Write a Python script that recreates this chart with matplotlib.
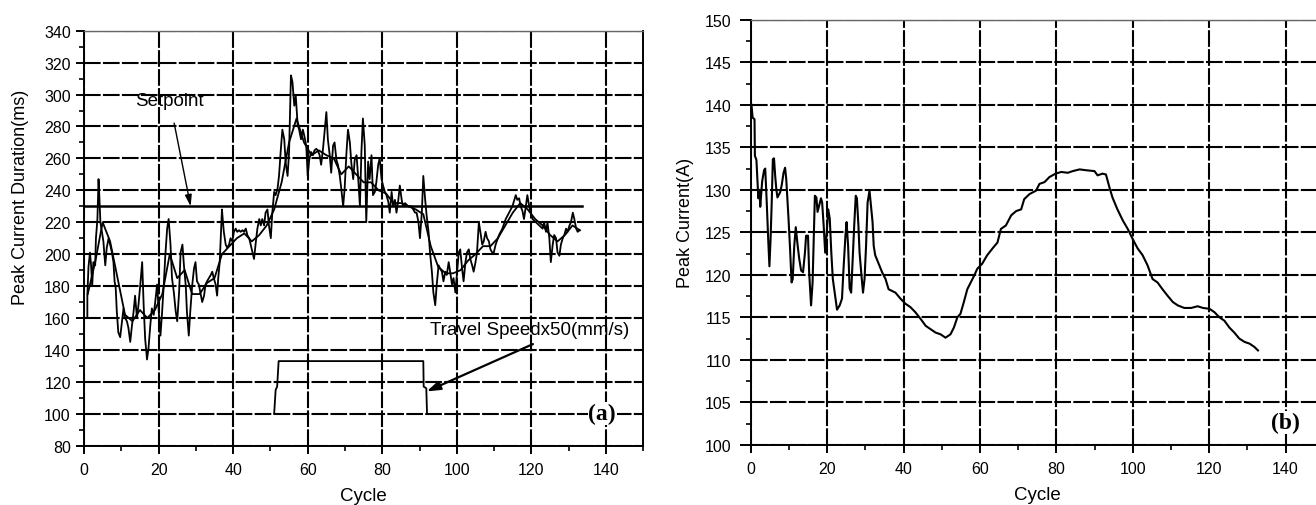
import numpy as np
import matplotlib
matplotlib.use("Agg")
import matplotlib.pyplot as plt
from matplotlib.ticker import MultipleLocator

plt.rcParams['font.family'] = ['Liberation Sans', 'DejaVu Sans']

# (a) peak current duration, measured trace
dur_x = [0.9, 0.9, 1.2, 1.6, 1.9, 2.2, 2.5, 3.0, 3.2, 3.6, 3.9, 4.1, 4.4, 4.8, 5.2, 5.7, 6.1, 6.6, 7.0, 7.5,
         7.9, 8.2, 8.5, 8.8, 9.2, 9.7, 10.1, 10.6, 11.0, 11.5, 11.9, 12.4, 12.8, 13.3, 13.7, 14.2, 14.6, 15.1,
         15.6, 16.0, 16.4, 16.9, 17.3, 17.8, 18.2, 18.7, 19.1, 19.6, 20.0, 20.5, 20.9, 21.4, 21.8, 22.3, 22.7,
         23.2, 23.6, 24.1, 24.6, 25.0, 25.5, 25.9, 26.4, 26.8, 27.3, 27.6, 28.1, 28.5, 29.0, 29.5, 29.9, 30.3,
         30.8, 31.2, 31.7, 32.2, 32.6, 33.0, 33.5, 34.0, 34.4, 34.8, 35.3, 35.7, 36.0, 36.4, 36.6, 37.0, 37.2,
         37.5, 38.0, 38.4, 38.9, 39.3, 39.8, 40.2, 40.7, 41.1, 41.6, 42.0, 42.5, 42.9, 43.4, 43.8, 44.3, 44.7,
         45.2, 45.6, 46.1, 46.5, 47.0, 47.4, 47.8, 48.3, 48.7, 49.2, 49.6, 50.1, 50.5, 51.0, 51.4, 51.9, 52.3,
         52.8, 53.2, 53.7, 54.1, 54.6, 55.0, 55.5, 55.9, 56.4, 56.8, 57.3, 57.7, 58.2, 58.7, 59.1, 59.6, 60.0,
         60.4, 60.9, 61.4, 61.8, 62.3, 62.7, 63.2, 63.6, 64.1, 64.5, 65.0, 65.4, 65.9, 66.3, 66.8, 67.2, 67.7,
         68.1, 68.6, 69.0, 69.5, 69.9, 70.4, 70.8, 71.3, 71.7, 72.2, 72.6, 73.1, 73.5, 74.0, 74.4, 74.8, 75.3,
         75.7, 76.2, 76.6, 77.1, 77.5, 78.0, 78.4, 78.9, 79.3, 79.8, 80.2, 80.7, 81.1, 81.6, 82.0, 82.5, 82.9,
         83.4, 83.8, 84.3, 84.7, 85.2, 85.6, 86.1, 86.5, 87.0, 87.9, 88.3, 88.8, 89.2, 89.7, 90.1, 90.6, 91.0,
         91.5, 91.9, 92.4, 92.8, 93.3, 93.7, 94.2, 94.6, 95.1, 95.5, 96.0, 96.4, 96.9, 97.3, 97.8, 98.2, 98.7,
         99.1, 99.6, 100.0, 100.5, 100.9, 101.4, 101.8, 102.3, 102.7, 103.2, 103.6, 104.1, 104.5, 105.0, 105.4,
         105.9, 106.3, 106.8, 107.2, 107.7, 108.1, 108.6, 109.0, 109.5, 109.9, 110.4, 111.3, 112.2, 113.1,
         114.0, 114.9, 115.8, 116.2, 116.7, 117.1, 117.6, 118.0, 118.5, 118.9, 119.4, 119.8, 120.3, 121.2,
         122.1, 123.0, 123.4, 123.9, 124.3, 124.8, 125.2, 125.7, 126.1, 126.6, 127.0, 127.5, 127.9, 128.4,
         128.8, 129.3, 129.7, 130.2, 130.6, 131.1, 131.5, 132.0, 132.4, 132.9]
dur_y = [160, 174, 192, 201, 193, 180, 195, 193, 210, 222, 247, 237, 220, 214, 208, 193, 204, 210, 206, 201,
         195, 183, 179, 164, 151, 148, 156, 166, 160, 158, 154, 145, 154, 164, 174, 160, 168, 181,
         195, 168, 147, 134, 141, 156, 166, 162, 170, 181, 166, 149, 162, 181, 199, 216, 222,
         206, 185, 176, 164, 158, 176, 201, 206, 193, 180, 164, 149, 164, 180, 191, 195, 183,
         181, 176, 170, 174, 181, 183, 185, 187, 189, 185, 181, 174, 185, 195, 206, 228, 222,
         214, 206, 204, 206, 210, 208, 214, 216, 214, 215, 214, 215, 214, 216, 212, 210, 206,
         201, 197, 208, 216, 222, 218, 222, 218, 226, 228, 218, 210, 226, 239, 237, 241, 249,
         266, 278, 272, 257, 249, 264, 312, 308, 293, 299, 281, 278, 272, 278, 274, 268, 249,
         259, 264, 262, 265, 266, 265, 262, 256, 266, 276, 289, 272, 262, 251, 268, 270, 259,
         256, 249, 241, 230, 241, 264, 278, 270, 257, 247, 259, 262, 249, 230, 264, 285, 268,
         220, 258, 247, 262, 237, 239, 245, 256, 260, 247, 243, 239, 237, 233, 226, 239, 230,
         234, 226, 234, 243, 234, 230, 232, 231, 230, 230, 228, 226, 226, 220, 210, 226, 249,
         234, 224, 214, 201, 189, 176, 168, 181, 193, 191, 189, 183, 189, 187, 195, 189, 181,
         185, 176, 187, 201, 203, 191, 183, 195, 201, 203, 197, 193, 189, 195, 201,
         220, 214, 206, 208, 214, 210, 208, 203, 201, 201, 206, 212, 216, 222,
         226, 230, 237, 234, 235, 230, 227, 222, 230, 237, 230, 226, 222, 220,
         218, 216, 220, 214, 220, 210, 195, 206, 212, 210, 201, 199, 206, 210,
         212, 216, 214, 218, 220, 226, 222, 216, 214, 215]

# (a) second, smoother trace
dur2_x = [1, 3, 5, 7, 9, 11, 13, 15, 17, 19, 21, 23, 25, 27, 29, 31, 33, 35, 37, 39, 41, 43, 45, 47, 49,
          51, 53, 55, 57, 59, 61, 63, 65, 67, 69, 71, 73, 75, 77, 79, 81, 83, 85, 87, 89, 91, 93, 95,
          97, 99, 101, 103, 105, 107, 109, 111, 113, 115, 117, 119, 121, 123, 125, 127, 129, 131, 133]
dur2_y = [175, 195, 220, 208, 185, 162, 158, 165, 160, 165, 175, 200, 185, 190, 175, 175, 182, 185, 200,
          205, 210, 213, 208, 212, 218, 228, 245, 270, 285, 270, 262, 265, 262, 260, 250, 255, 250, 245,
          245, 240, 238, 232, 232, 230, 228, 225, 205, 192, 188, 188, 190, 196, 200, 205, 205, 210, 218,
          226, 232, 228, 222, 218, 212, 208, 212, 218, 215]

setpoint_x = [0, 133.5]
setpoint_y = [230, 230]

speed_x = [51.0, 51.4, 51.8, 52.2, 91.0, 91.1, 91.8, 92.0]
speed_y = [100, 115, 117, 133, 133, 117, 116, 100]

# (b) peak current
cur_x = [0.2, 0.5, 1.0, 1.1, 1.5, 2.0, 2.3, 2.5, 3.0, 3.5, 3.8, 4.2, 4.6, 4.9, 5.2, 5.5, 5.8, 6.1, 6.4,
         6.7, 7.0, 7.7, 8.1, 8.6, 9.0, 9.3, 9.6, 9.9, 10.3, 10.7, 11.0, 11.4, 11.8, 12.3, 12.7, 13.2, 13.7,
         14.2, 14.5, 15.0, 15.3, 15.8, 16.2, 16.5, 16.8, 17.2, 17.5, 17.9, 18.4, 18.7, 19.1, 19.5, 19.9,
         20.3, 20.7, 21.1, 21.5, 22.0, 22.6, 23.3, 23.9, 24.3, 24.8, 25.1, 25.5, 25.9, 26.3, 26.7, 27.1,
         27.5, 27.8, 28.2, 28.5, 29.0, 29.4, 29.8, 30.2, 30.6, 31.1, 31.5, 31.9, 32.2, 32.6, 33.5, 34.4,
         35.3, 36.1, 37.0, 37.9, 39.2, 40.5, 41.8, 43.1, 44.5, 45.8, 47.1, 48.4, 49.7, 51.0, 52.3, 53.2,
         54.1, 54.9, 55.8, 56.7, 57.6, 58.5, 59.3, 60.6, 61.9, 63.3, 64.6, 65.5, 66.8, 68.2, 69.5, 70.8,
         71.6, 73.0, 74.7, 75.6, 76.9, 78.2, 79.8, 81.3, 83.0, 84.3, 86.1, 87.8, 90.0, 90.8, 92.1, 93.0,
         93.9, 94.7, 96.0, 97.4, 98.7, 100.0, 101.3, 102.6, 103.9, 105.2, 106.5, 107.8, 109.2, 110.5,
         111.8, 113.5, 115.3, 117.0, 118.4, 120.1, 121.4, 122.7, 124.0, 125.3, 126.6, 127.9, 129.3,
         130.6, 131.9, 132.8]
cur_y = [140.0, 138.5, 138.3, 134.0, 133.5, 129.0, 130.0, 128.0, 131.0, 132.3, 132.5, 128.5, 124.0,
         121.0, 124.2, 128.5, 133.6, 133.7, 131.7, 130.1, 129.1, 129.7, 130.5, 132.0, 132.6, 131.3,
         129.0, 126.6, 123.1, 119.1, 119.5, 123.4, 125.6, 123.4, 121.9, 120.5, 120.3, 122.6, 124.6,
         124.6, 120.3, 116.4, 119.1, 124.2, 129.3, 129.1, 127.4, 128.1, 129.0, 128.5, 125.8, 122.6,
         125.0, 127.7, 126.6, 122.6, 119.5, 117.9, 115.9, 116.4, 117.2, 120.7, 124.6, 126.2, 123.4,
         118.4, 117.9, 121.9, 125.8, 129.3, 129.0, 125.8, 122.6, 119.9, 117.9, 119.5, 123.4, 128.5,
         129.9, 128.1, 126.2, 123.4, 122.3, 121.3, 120.3, 119.5, 118.3, 118.1, 117.9, 117.2, 116.6,
         116.2, 115.6, 114.8, 114.0, 113.6, 113.2, 113.0, 112.6, 113.0, 113.8, 115.0, 115.4, 116.8,
         118.3, 119.1, 119.9, 120.7, 121.3, 122.3, 123.1, 123.8, 125.4, 125.8, 127.0, 127.5, 127.7,
         128.9, 129.5, 129.9, 130.7, 130.9, 131.5, 131.9, 132.1, 132.0, 132.2, 132.4, 132.3, 132.2,
         131.7, 131.9, 131.8, 130.3, 129.1, 127.7, 126.4, 125.4, 124.2, 123.1, 122.3, 121.1, 119.5,
         119.1, 118.3, 117.5, 116.8, 116.4, 116.1, 116.1, 116.3, 116.1, 116.0, 115.6, 115.0, 114.6,
         113.8, 113.2, 112.5, 112.1, 111.9, 111.5, 111.1]

W, H = 1316, 506
fig = plt.figure(figsize=(W / 100, H / 100), dpi=100)
serif = ['Liberation Serif', 'DejaVu Serif']


def style_axes(ax, ymaj, ymin, ylen, ypad):
    ax.xaxis.set_major_locator(MultipleLocator(20))
    ax.xaxis.set_minor_locator(MultipleLocator(10))
    ax.yaxis.set_major_locator(MultipleLocator(ymaj))
    ax.yaxis.set_minor_locator(MultipleLocator(ymin))
    ax.tick_params(which='major', direction='out', length=6, width=1.4, labelsize=11.5)
    ax.tick_params(axis='x', which='major', pad=6)
    ax.tick_params(axis='y', which='major', length=ylen, pad=ypad)
    ax.tick_params(which='minor', direction='out', length=3.5, width=1.2)
    ax.grid(True, which='major', color='black', linewidth=1.5, linestyle=(0, (8, 1.1)))
    ax.set_axisbelow(True)
    for sp in ax.spines.values():
        sp.set_linewidth(1.4)
    ax.spines['top'].set_color('#666666')
    ax.spines['top'].set_linewidth(1.0)


# ---- panel (a)
axa = fig.add_axes([84 / W, 1 - 446.7 / H, 559.3 / W, 415 / H])
axa.plot(dur2_x, dur2_y, color='black', lw=1.3)
axa.plot(dur_x, dur_y, color='black', lw=1.3)
axa.plot(setpoint_x, setpoint_y, color='black', lw=1.8)
axa.plot(speed_x, speed_y, color='black', lw=1.3)
axa.set_xlim(0, 150)
axa.set_ylim(80, 340)
style_axes(axa, 20, 10, 5.5, 4)
axa.set_xlabel('Cycle', fontsize=13.5, labelpad=7)
axa.set_ylabel('Peak Current Duration(ms)', fontsize=13)
axa.yaxis.set_label_coords(-0.098, 0.60)

axa.annotate('Setpoint', xy=(28.6, 230), xytext=(23, 296), ha='center', va='center', fontsize=13.5,
             arrowprops=dict(arrowstyle='-|>,head_length=0.5,head_width=0.15', color='black', lw=1.0,
                             shrinkA=8, shrinkB=0))
axa.annotate('Travel Speedx50(mm/s)', xy=(91.9, 114), xytext=(119.5, 152.5), ha='center', va='center',
             fontsize=13.5,
             arrowprops=dict(arrowstyle='-|>,head_length=0.6,head_width=0.2', color='black', lw=1.6,
                             relpos=(0.58, 0.0), shrinkA=5, shrinkB=0))
axa.text(139, 100, '(a)', ha='center', va='center', fontsize=17, fontweight='bold', family=serif,
         bbox=dict(facecolor='white', edgecolor='none', pad=0.5))

# ---- panel (b)
axb = fig.add_axes([750.7 / W, 1 - 445.8 / H, 573 / W, 425 / H])
axb.plot(cur_x, cur_y, color='black', lw=1.5)
axb.set_xlim(0, 150)
axb.set_ylim(100, 150)
style_axes(axb, 5, 2.5, 8, 6)
axb.set_xlabel('Cycle', fontsize=13.5, labelpad=7)
axb.set_ylabel('Peak Current(A)', fontsize=13)
axb.yaxis.set_label_coords(-0.099, 0.524)
axb.text(140, 102.6, '(b)', ha='center', va='center', fontsize=17, fontweight='bold', family=serif,
         bbox=dict(facecolor='white', edgecolor='none', pad=0.5))

fig.savefig('out.png', dpi=100)
